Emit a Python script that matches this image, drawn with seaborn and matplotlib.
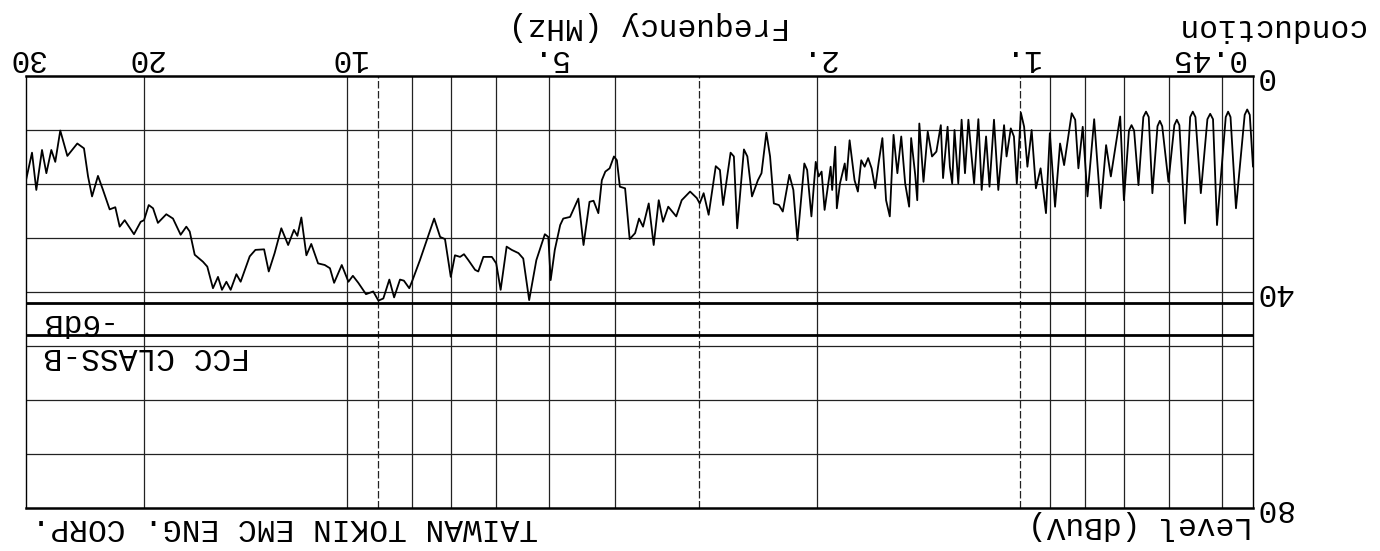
import matplotlib
matplotlib.use("Agg")
import numpy as np
import pandas as pd
import seaborn as sns
import matplotlib.pyplot as plt
from matplotlib.ticker import NullLocator

freq_mhz = [
    30.0, 29.39, 28.96, 28.40, 27.98, 27.51, 27.14, 26.68, 26.04, 25.17, 24.60, 24.26,
    23.93, 23.45, 23.05, 22.53, 22.10, 21.77, 21.40, 20.73, 20.26, 20.03, 19.71, 19.42,
    19.10, 18.56, 18.14, 17.67, 17.33, 17.13, 16.84, 16.37, 16.13, 15.82, 15.55, 15.34,
    15.11, 14.89, 14.60, 14.39, 13.95, 13.68, 13.28, 13.07, 12.81, 12.52, 12.23, 11.99,
    11.85, 11.69, 11.49, 11.30, 11.04, 10.79,
    10.60, 10.45, 10.18, 9.95, 9.80, 9.62, 9.37, 9.14, 8.98, 8.83, 8.65, 8.51, 8.34, 8.23,
    8.08, 7.99, 7.79, 7.61, 7.42, 7.27, 7.15, 7.01, 6.91, 6.79, 6.70, 6.60, 6.45, 6.38,
    6.27, 6.09, 6.00, 5.91, 5.79, 5.69, 5.56, 5.47, 5.36, 5.23, 5.08, 5.02, 4.98, 4.91,
    4.82, 4.77, 4.66, 4.53, 4.45, 4.36, 4.30, 4.23, 4.18, 4.13, 4.07, 4.01, 3.97, 3.93,
    3.86, 3.80, 3.73, 3.68, 3.63,
    3.56, 3.50, 3.44, 3.39, 3.33, 3.24, 3.18, 3.09, 3.02, 2.99, 2.95, 2.90, 2.83, 2.79,
    2.76, 2.69, 2.66, 2.63, 2.57, 2.54, 2.50, 2.45, 2.42, 2.38, 2.35, 2.32, 2.28, 2.25,
    2.20, 2.17, 2.14, 2.09, 2.07, 2.04, 2.01, 1.99, 1.97, 1.95, 1.91, 1.90, 1.88, 1.87,
    1.85, 1.82, 1.81, 1.79, 1.76, 1.74, 1.72, 1.70, 1.68, 1.66, 1.64, 1.62, 1.60, 1.58,
    1.56, 1.54, 1.52, 1.50, 1.48, 1.46, 1.45, 1.43, 1.42, 1.41, 1.39, 1.37, 1.35, 1.33,
    1.31, 1.30, 1.28,
    1.27, 1.26, 1.25, 1.234, 1.220, 1.206, 1.192, 1.179, 1.169, 1.152, 1.139, 1.122,
    1.109, 1.092, 1.076, 1.055, 1.046, 1.031, 1.020, 1.010, 0.996, 0.985, 0.974, 0.960,
    0.946, 0.931, 0.914, 0.902, 0.886, 0.871, 0.859, 0.837, 0.827, 0.818, 0.806, 0.793,
    0.775, 0.758, 0.744, 0.732, 0.709, 0.700, 0.688, 0.682, 0.676, 0.666, 0.655, 0.649,
    0.643, 0.635, 0.624, 0.619, 0.614, 0.601, 0.589, 0.584, 0.579, 0.568, 0.558, 0.553,
    0.548, 0.538, 0.526, 0.521, 0.516, 0.509, 0.494, 0.490, 0.486, 0.477, 0.463, 0.459,
    0.455, 0.450,
]
level_dbuv = [
    19.3, 14.2, 21.1, 13.7, 18.0, 13.7, 15.9, 10.1, 14.8, 12.5, 13.4, 18.6,
    22.3, 18.5, 21.1, 24.7, 24.3, 27.9, 26.7, 29.3, 27.0, 26.7, 23.9, 24.5,
    27.2, 25.6, 26.4, 29.4, 27.9, 28.8, 33.1, 34.4, 35.3, 39.3, 37.2, 39.6,
    38.1, 39.6, 36.7, 38.1, 33.4, 32.2, 32.1, 36.2, 32.8, 28.2, 31.3, 28.5,
    29.6, 26.2, 33.2, 31.1, 34.7, 35.0,
    35.6, 38.3, 35.0, 38.1, 37.0, 38.3, 40.4, 39.9, 41.6, 41.2, 37.7, 41.0, 37.7, 37.9,
    39.3, 37.8, 34.1, 30.4, 26.4, 29.8, 30.2, 37.2, 33.2, 33.5, 33.0, 34.1, 35.9, 36.2,
    33.5, 33.5, 34.7, 39.6, 31.6, 32.2, 32.8, 33.8, 41.5, 34.1, 29.3, 29.8, 37.8, 32.2,
    27.6, 26.4, 26.1, 22.7, 31.3, 23.3, 23.1, 25.4, 19.3, 17.7, 17.1, 14.9, 15.6, 20.5,
    20.8, 30.2, 29.1, 26.4, 27.9,
    23.6, 31.3, 23.0, 27.0, 24.2, 26.0, 23.0, 21.4, 22.6, 23.6, 21.7, 25.7, 16.7, 17.4,
    23.9, 14.2, 14.9, 28.2, 13.6, 14.9, 22.3, 19.3, 18.0, 10.5, 14.9, 23.6, 23.9, 25.1,
    18.3, 21.1, 30.4, 16.2, 17.4, 26.0, 15.9, 18.6, 17.7, 24.8, 16.8, 21.1, 13.1, 24.5,
    19.9, 16.2, 19.3, 11.9, 19.3, 21.4, 15.6, 16.8, 15.2, 17.1, 20.8, 15.9, 11.5, 23.0,
    26.0, 10.9, 18.0, 11.2, 19.9, 24.2, 11.5, 18.3, 23.0, 8.8, 19.6, 10.3, 14.9, 14.0,
    9.1, 18.9, 9.4,
    16.8, 19.9, 10.0, 19.9, 8.1, 18.0, 8.1, 14.9, 19.9, 8.0, 21.1, 11.2,
    20.5, 8.1, 21.1, 9.1, 14.9, 9.7, 11.2, 19.9, 6.8, 9.4, 16.8, 10.0,
    20.8, 17.1, 25.4, 10.6, 24.2, 12.5, 16.5, 6.9, 8.1, 17.1, 9.4, 22.3,
    8.0, 24.5, 12.8, 18.6, 7.5, 23.0, 10.1, 9.1, 10.1, 20.2, 7.6, 6.6,
    7.6, 21.7, 9.3, 8.3, 9.3, 19.6, 9.1, 8.1, 9.1, 27.3, 7.6, 6.6,
    7.6, 21.7, 8.0, 7.0, 8.0, 27.6, 7.6, 6.6, 7.6, 24.5, 7.2, 6.2,
    7.2, 16.8,
]

grid_freqs = [0.5, 0.6, 0.7, 0.8, 0.9, 1, 2, 3, 4, 5, 6, 7, 8, 9, 10, 20]
dashed_freqs = [1, 3, 9]
grid_levels = [10, 20, 30, 40, 50, 60, 70]
freq_ticks = [30, 20, 10, 5, 2, 1]
freq_tick_labels = ["30", "20", "10", "5.", "2.", "1."]
level_ticks = [0, 40, 80]
limit_fcc_b = 48
limit_margin = 42

sns.set_style("white")
plt.rcParams["font.family"] = ["Liberation Mono", "DejaVu Sans Mono"]
FS = 22.5

fig = plt.figure(figsize=(13.8, 5.51), dpi=100)
ax = fig.add_axes([26 / 1380, 1 - 508 / 551, 1227 / 1380, 432 / 551])

df = pd.DataFrame({"freq": freq_mhz, "level": level_dbuv})
sns.lineplot(data=df, x="freq", y="level", ax=ax, color="black", lw=1.3,
             estimator=None, zorder=5)

ax.set_xscale("log")
ax.set_xlim(30, 0.45)
ax.set_ylim(80, 0)
ax.xaxis.set_minor_locator(NullLocator())
ax.set_xticks([])
ax.set_yticks([])
ax.set_xlabel("")
ax.set_ylabel("")

for f in grid_freqs:
    ax.axvline(f, color="#222222", lw=0.9, ls=(0, (6, 2)) if f in dashed_freqs else "-")
for l in grid_levels:
    ax.axhline(l, color="#222222", lw=0.9)
ax.axhline(limit_margin, color="black", lw=2.0, zorder=6)
ax.axhline(limit_fcc_b, color="black", lw=2.0, zorder=6)

for side in ["left", "right"]:
    ax.spines[side].set_linewidth(1.0)
    ax.spines[side].set_color("black")
for side in ["top", "bottom"]:
    ax.spines[side].set_linewidth(1.8)
    ax.spines[side].set_color("black")

# everything on the sheet is upside down
rot = dict(rotation=180, fontsize=FS, color="black")
xt = ax.get_xaxis_transform()
yt = ax.get_yaxis_transform()
for f, lab in zip(freq_ticks, freq_tick_labels):
    ax.text(f, 1.042, lab, transform=xt, ha="center", va="center", **rot)
ax.text(0.463, 1.042, "0.45", transform=xt, ha="right", va="center", **rot)
for l in level_ticks:
    ax.text(1.0016, l, str(l), transform=yt, ha="left", va="center", **rot)

ax.text(29.2, limit_margin + 3.6, "-6dB", ha="left", va="center", **rot)
ax.text(28.2, limit_fcc_b + 3.8, "FCC CLASS-B", ha="left", va="center", **rot)

ax.text(1.0, -0.039, "Level (dBuV)", transform=ax.transAxes, ha="right", va="center", **rot)
ax.text(0.005, -0.044, "TAIWAN TOKIN EMC ENG. CORP.", transform=ax.transAxes,
        ha="left", va="center", **rot)
fig.text(649 / 1380, 1 - 26 / 551, "Frequency (MHz)", ha="center", va="center", **rot)
fig.text(1270 / 1380, 1 - 27 / 551, "conduction", ha="center", va="center", **rot)

fig.savefig("out.png", dpi=100)
